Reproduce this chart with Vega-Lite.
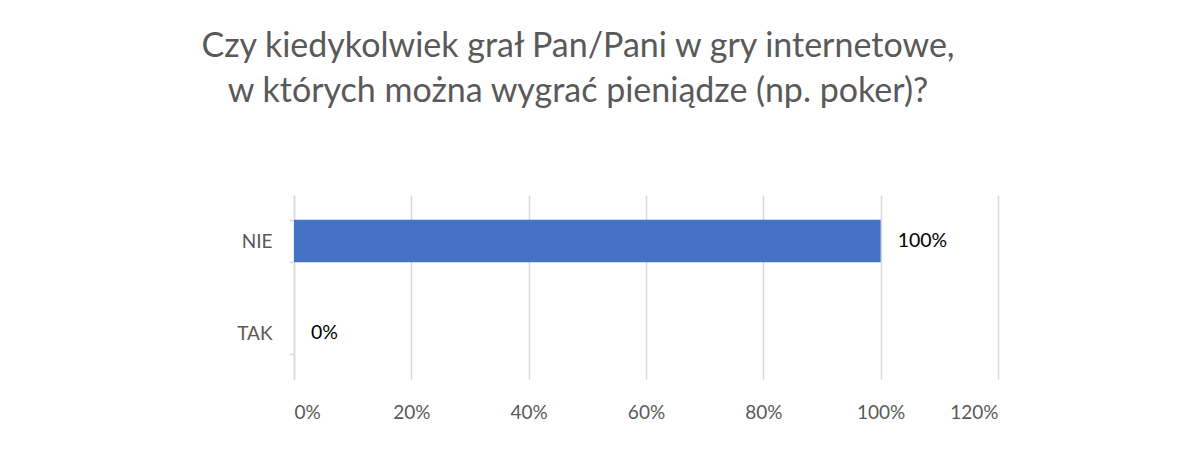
{
  "$schema": "https://vega.github.io/schema/vega-lite/v6.json",
  "width": 704,
  "height": 184,
  "autosize": "none",
  "padding": {"left": 294, "top": 195, "right": 196, "bottom": 89},
  "background": "white",
  "title": {
    "text": ["Czy kiedykolwiek grał Pan/Pani w gry internetowe,", "w których można wygrać pieniądze (np. poker)?"],
    "font": "Lato",
    "fontSize": 34,
    "fontWeight": "normal",
    "color": "#595959",
    "anchor": "middle",
    "dx": -68,
    "offset": 77,
    "lineHeight": 45
  },
  "data": {
    "values": [
      {"odp": "NIE", "v": 1.0, "lab": "100%"},
      {"odp": "TAK", "v": 0.0, "lab": "0%"}
    ]
  },
  "config": {
    "view": {"stroke": null},
    "font": "Lato"
  },
  "encoding": {
    "y": {
      "field": "odp", "type": "nominal", "sort": ["NIE", "TAK"],
      "scale": {"paddingInner": 0.54, "paddingOuter": 0.27},
      "axis": {
        "title": null,
        "domainColor": "#d9d9d9", "domainWidth": 1.5,
        "tickColor": "#d9d9d9", "tickSize": 5, "tickWidth": 1.5, "tickBand": "extent",
        "labelFont": "Lato", "labelFontSize": 19, "labelColor": "#595959", "labelPadding": 17
      }
    },
    "x": {
      "field": "v", "type": "quantitative",
      "scale": {"domain": [0, 1.2], "nice": false},
      "axis": {
        "title": null, "format": ".0%", "values": [0, 0.2, 0.4, 0.6, 0.8, 1.0, 1.2],
        "domain": false, "ticks": false,
        "grid": true, "gridColor": "#d9d9d9", "gridWidth": 1.5,
        "labelFont": "Lato", "labelFontSize": 19, "labelColor": "#595959", "labelPadding": 24
      }
    }
  },
  "layer": [
    {
      "mark": {"type": "bar", "color": "#4472C4"}
    },
    {
      "mark": {"type": "text", "align": "left", "baseline": "middle", "dx": 17, "fontSize": 19.5, "color": "#000000", "font": "Lato"},
      "encoding": {"text": {"field": "lab"}}
    }
  ]
}
